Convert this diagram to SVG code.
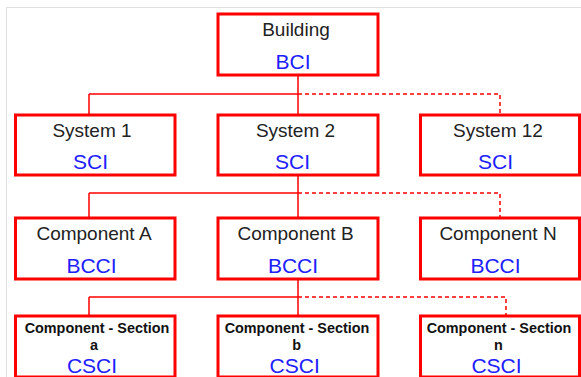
<svg xmlns="http://www.w3.org/2000/svg" width="581" height="377" viewBox="0 0 581 377">
<style>
.box{fill:#fff;stroke:#ff0000;stroke-width:3}
.ln{fill:none;stroke:#ff0000;stroke-width:1.5}
.dash{fill:none;stroke:#ff0000;stroke-width:1.5;stroke-dasharray:4 3}
.nm{font-family:"Liberation Sans",Arial,sans-serif;font-size:19px;fill:#222;text-anchor:middle}
.cd{font-family:"Liberation Sans",Arial,sans-serif;font-size:21px;fill:#2020ff;text-anchor:middle}
.sc{font-family:"Liberation Sans",Arial,sans-serif;font-size:14.4px;font-weight:bold;fill:#111;text-anchor:middle}
</style>
<rect x="0" y="0" width="581" height="377" fill="#fff"/>
<rect x="6.5" y="7.5" width="620" height="420" fill="#fff" stroke="#e0e0e0" stroke-width="1"/>
<g id="connectors">
<path class="ln" d="M298 75V94M89 94H298M89 94V115M298 94V115"/>
<path class="dash" d="M298 94H500V115"/>
<path class="ln" d="M298 175V193M89 193H298M89 193V218M298 193V218"/>
<path class="dash" d="M298 193H500V218"/>
<path class="ln" d="M298 279V297M89 297H298M89 297V316M298 297V316"/>
<path class="dash" d="M298 297H506V316"/>
</g>
<g id="building"><rect class="box" x="218" y="14" width="160" height="61"/><text class="nm" x="296" y="35.5">Building</text><text class="cd" x="293" y="68.5">BCI</text></g>
<g id="system1"><rect class="box" x="15.5" y="115" width="159.5" height="60"/><text class="nm" x="92" y="136.7">System 1</text><text class="cd" x="90.5" y="169.3">SCI</text></g>
<g id="system2"><rect class="box" x="218" y="115" width="160" height="60"/><text class="nm" x="295.5" y="136.7">System 2</text><text class="cd" x="292.5" y="169.3">SCI</text></g>
<g id="system12"><rect class="box" x="420.5" y="115" width="159" height="60"/><text class="nm" x="498" y="136.7">System 12</text><text class="cd" x="495.5" y="169.3">SCI</text></g>
<g id="compA"><rect class="box" x="15.5" y="218" width="159.5" height="61"/><text class="nm" x="94" y="239.5">Component A</text><text class="cd" x="91.5" y="272.7">BCCI</text></g>
<g id="compB"><rect class="box" x="218" y="218" width="160" height="61"/><text class="nm" x="295.5" y="239.5">Component B</text><text class="cd" x="293" y="272.7">BCCI</text></g>
<g id="compN"><rect class="box" x="420.5" y="218" width="159" height="61"/><text class="nm" x="498" y="239.5">Component N</text><text class="cd" x="495.5" y="272.7">BCCI</text></g>
<g id="sectA"><rect class="box" x="15.5" y="316" width="159.5" height="61"/><text class="sc" x="97" y="333.3">Component - Section</text><text class="sc" x="94" y="350">a</text><text class="cd" x="92" y="373.3">CSCI</text></g>
<g id="sectB"><rect class="box" x="218" y="316" width="160" height="61"/><text class="sc" x="297" y="333.3">Component - Section</text><text class="sc" x="296.7" y="350">b</text><text class="cd" x="294.7" y="373.3">CSCI</text></g>
<g id="sectN"><rect class="box" x="420.5" y="316" width="159" height="61"/><text class="sc" x="499" y="333.3">Component - Section</text><text class="sc" x="498.5" y="350">n</text><text class="cd" x="496.5" y="373.3">CSCI</text></g>
</svg>
